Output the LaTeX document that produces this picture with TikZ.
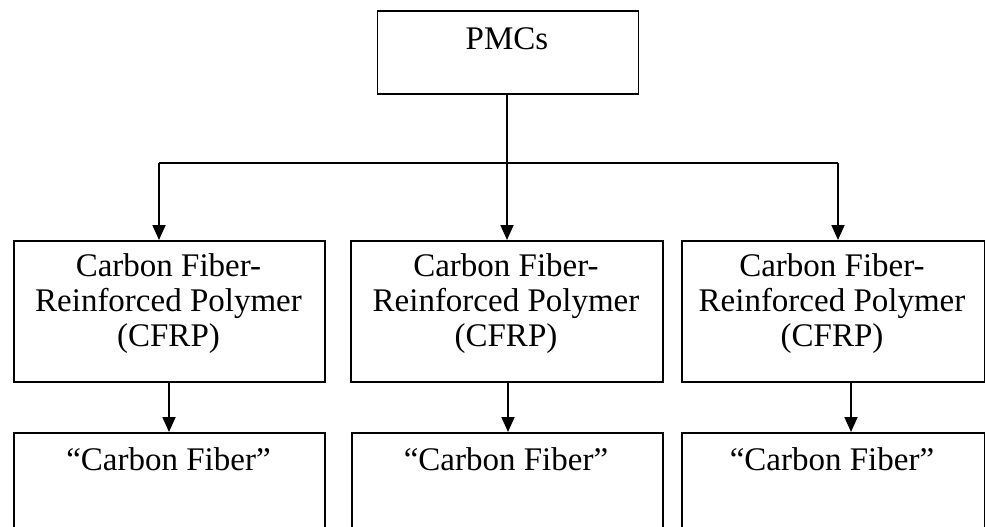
\documentclass[tikz,border=0pt]{standalone}
\usepackage{fontspec}
\setmainfont{Liberation Serif}
\usetikzlibrary{arrows.meta}
\begin{document}
\begin{tikzpicture}[x=1pt,y=-1pt,
  box/.style={draw, line width=1.8pt, inner sep=0pt, anchor=north west},
  lbl/.style={font=\fontsize{33}{35}\selectfont, align=center, anchor=base, inner sep=0pt},
  link/.style={line width=1.8pt},
  arr/.style={line width=1.8pt, -{Triangle[length=15pt,width=13pt]}}]
\useasboundingbox (0,0) rectangle (985,527);
\clip (0,0) rectangle (985,527);

% root box
\node[box, minimum width=261pt, minimum height=83pt] (pmc) at (376.5,10) {};
\node[lbl] (pmct) at (507,50) {PMCs};

% second row
\node[box, minimum width=311pt, minimum height=141pt] (c1) at (13,240) {};
\node[box, minimum width=312pt, minimum height=141pt] (c2) at (350,240) {};
\node[box, minimum width=303pt, minimum height=141pt] (c3) at (681,240) {};
\node[lbl] (c1t) at (168.5,346) {Carbon Fiber-\\Reinforced Polymer\\(CFRP)};
\node[lbl] (c2t) at (506,346) {Carbon Fiber-\\Reinforced Polymer\\(CFRP)};
\node[lbl] (c3t) at (832,346) {Carbon Fiber-\\Reinforced Polymer\\(CFRP)};

% third row (runs past the lower edge)
\node[box, minimum width=311pt, minimum height=120pt] (f1) at (13,432) {};
\node[box, minimum width=311pt, minimum height=120pt] (f2) at (351,432) {};
\node[box, minimum width=303pt, minimum height=120pt] (f3) at (681,432) {};
\node[lbl] (f1t) at (168.5,470) {``Carbon Fiber''};
\node[lbl] (f2t) at (506,470) {``Carbon Fiber''};
\node[lbl] (f3t) at (832,470) {``Carbon Fiber''};

% arrow columns
\coordinate (split) at (507,163);
\coordinate (x1) at (159,0);
\coordinate (x3) at (838,0);
\coordinate (y1) at (169,0);
\coordinate (y2) at (508,0);
\coordinate (y3) at (851,0);

% connectors from the root
\draw[arr] (pmc.south -| split) -- (c2.north -| split);
\draw[link] (x1 |- split) -- (x3 |- split);
\draw[arr] (x1 |- split) -- (c1.north -| x1);
\draw[arr] (x3 |- split) -- (c3.north -| x3);

% connectors to the third row
\draw[arr] (c1.south -| y1) -- (f1.north -| y1);
\draw[arr] (c2.south -| y2) -- (f2.north -| y2);
\draw[arr] (c3.south -| y3) -- (f3.north -| y3);
\end{tikzpicture}
\end{document}
